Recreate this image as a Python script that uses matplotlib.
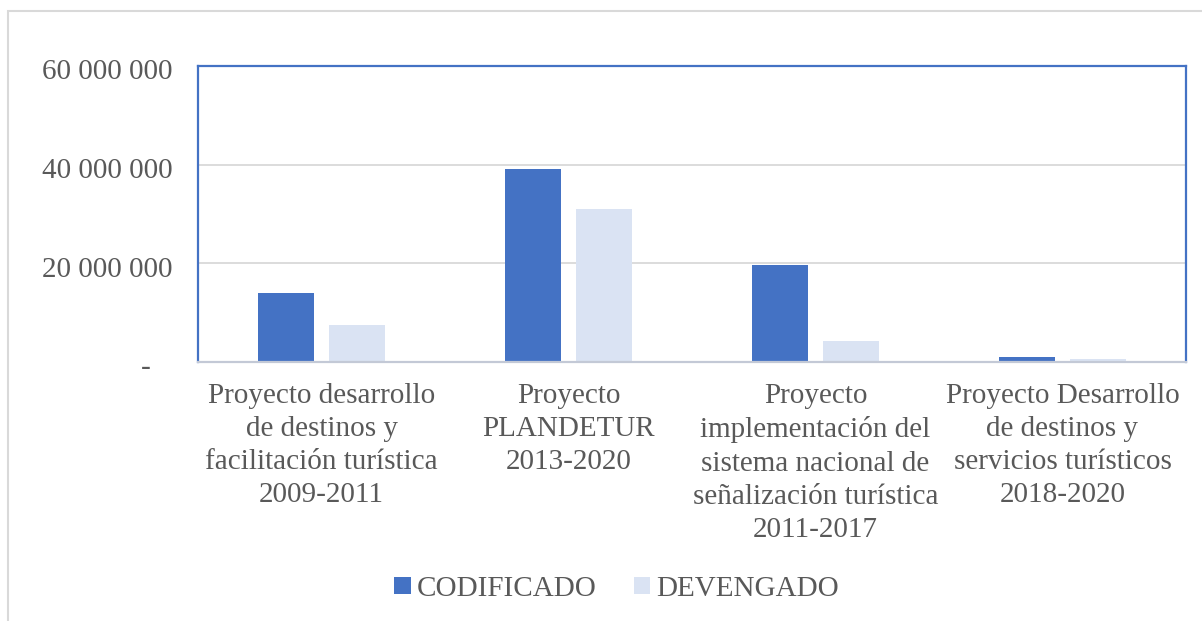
import matplotlib
matplotlib.use("Agg")
import matplotlib.pyplot as plt
import matplotlib.transforms as mtransforms
import numpy as np
from matplotlib.patches import Rectangle

CATEGORIES = [
    "Proyecto desarrollo\nde destinos y\nfacilitación turística\n2009-2011",
    "Proyecto\nPLANDETUR\n2013-2020",
    "Proyecto\nimplementación del\nsistema nacional de\nseñalización turística\n2011-2017",
    "Proyecto Desarrollo\nde destinos y\nservicios turísticos\n2018-2020",
]
CODIFICADO = [14.0e6, 39.1e6, 19.7e6, 1.1e6]
DEVENGADO = [7.5e6, 31.0e6, 4.3e6, 0.6e6]
YTICKS = [0, 20e6, 40e6, 60e6]

TXT = "#595959"
FS = 21
plt.rcParams["font.family"] = ["Liberation Serif", "DejaVu Serif"]

fig = plt.figure(figsize=(12.02, 6.21), dpi=100)
ax = fig.add_axes([198 / 1202, 1 - 362 / 621, (1186 - 198) / 1202, (362 - 66) / 621])

# outer chart frame (light grey)
fig.patches.append(Rectangle((8 / 1202, -0.2), 1.2, 1.2 - 11 / 621,
                             transform=fig.transFigure, fill=False,
                             ec="#D9D9D9", lw=1.5, zorder=0))

x = np.arange(len(CATEGORIES))
w, off = 0.227, 0.144
ax.bar(x - off, CODIFICADO, w, color="#4472C4", label="CODIFICADO", zorder=3)
ax.bar(x + off, DEVENGADO, w, color="#DAE3F3", label="DEVENGADO", zorder=3)

ax.set_xlim(-0.5, len(CATEGORIES) - 0.5)
ax.set_ylim(0, 60e6)
ax.set_yticks(YTICKS)
ax.set_yticklabels([f"{v:,.0f}".replace(",", " ") if v else "" for v in YTICKS])
ax.annotate("-", xy=(0, 0), xycoords=("axes fraction", "data"),
            xytext=(-37.5, -4), textcoords="offset points",
            ha="center", va="center", fontsize=FS, color=TXT)
ax.set_xticks(x)
ax.set_xticklabels(CATEGORIES, linespacing=1.36)
ax.tick_params(axis="y", length=0, pad=18.5, labelsize=FS, labelcolor=TXT)
ax.tick_params(axis="x", length=0, pad=15, labelsize=FS, labelcolor=TXT)
shift = mtransforms.ScaledTranslation(0, -2.5 / 72, fig.dpi_scale_trans)
for lab in ax.get_yticklabels():
    lab.set_transform(lab.get_transform() + shift)

for v in YTICKS[1:3]:
    ax.axhline(v, color="#D9D9D9", lw=1.3, zorder=1)

for s in ["top", "left", "right"]:
    ax.spines[s].set_color("#4472C4")
    ax.spines[s].set_linewidth(1.6)
ax.spines["bottom"].set_color("#C3C9D6")
ax.spines["bottom"].set_linewidth(1.6)
ax.spines["bottom"].set_zorder(4)

fig.legend(loc="center", bbox_to_anchor=(0.513, 1 - 589 / 621), ncol=2, frameon=False,
           fontsize=FS, labelcolor=TXT, handlelength=0.55, handleheight=0.55,
           handletextpad=0.2, columnspacing=1.3)

fig.savefig("out.png", dpi=100)
